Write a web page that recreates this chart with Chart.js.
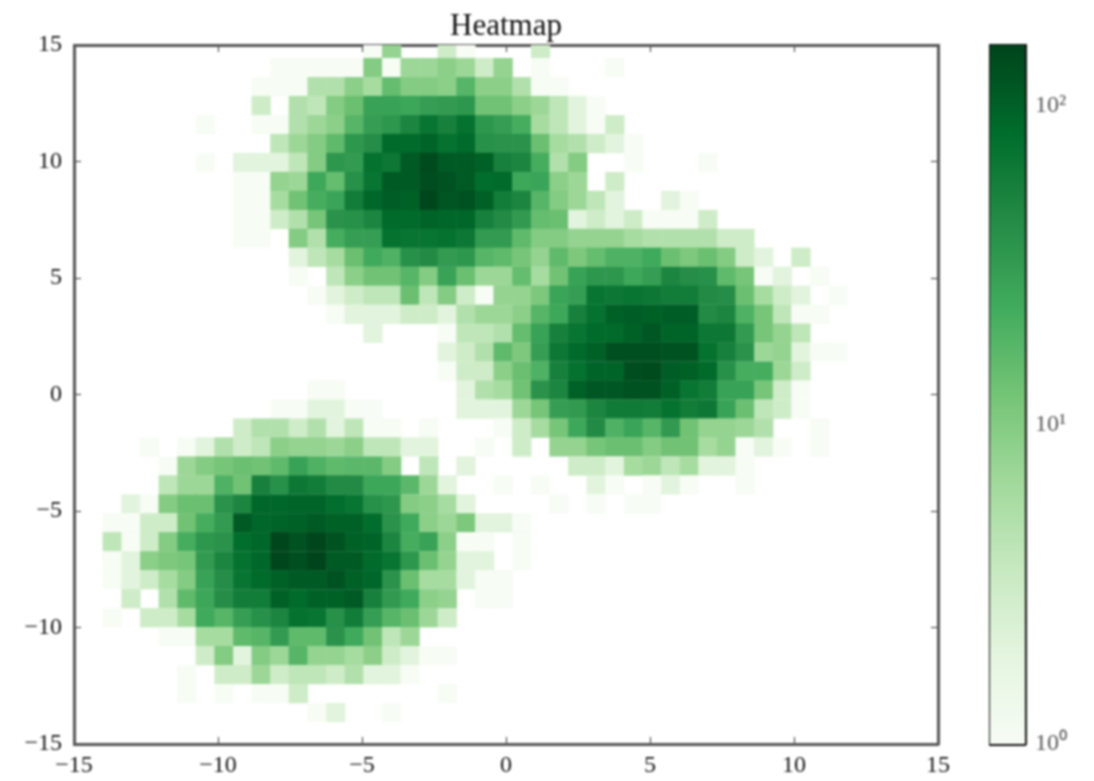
<!DOCTYPE html>
<html>
<head>
<meta charset="utf-8">
<title>Heatmap</title>
<script src="https://cdn.jsdelivr.net/npm/chart.js@4"></script>
<style>
  body { margin: 0; background: #fff; }
  canvas { position: absolute; top: 0; filter: blur(1px); }
  #heatmap { left: 0; }
  #colorbar { left: 940px; }
</style>
</head>
<body>
<canvas id="heatmap" width="1094" height="781"></canvas>
<canvas id="colorbar" width="154" height="781"></canvas>
<script>
// Bin centres
const xBins = [-13.67,-13.02,-12.37,-11.73,-11.08,-10.44,-9.79,-9.14,-8.50,-7.85,-7.21,-6.56,-5.91,-5.27,-4.62,-3.97,-3.33,-2.68,-2.04,-1.39,-0.74,-0.10,0.55,1.20,1.84,2.49,3.13,3.78,4.43,5.07,5.72,6.37,7.01,7.66,8.30,8.95,9.60,10.24,10.89,11.54];
const yBins = [14.84,14.03,13.21,12.40,11.58,10.77,9.96,9.14,8.33,7.51,6.70,5.89,5.07,4.26,3.44,2.63,1.82,1.00,0.19,-0.63,-1.44,-2.25,-3.07,-3.88,-4.70,-5.51,-6.32,-7.14,-7.95,-8.77,-9.58,-10.39,-11.21,-12.02,-12.84,-13.65];

// Counts per bin, one line per y bin (top to bottom), estimated from the colours
const counts = [
  [0,0,0,0,0,0,0,0,0,0, 0,0,0,0,1,8,0,0,3,1, 0,0,0,3],
  [0,0,0,0,0,0,0,0,0,1, 1,1,1,1,10,1,7,7,9,7, 3,8,0,1,0,0,0,1],
  [0,0,0,0,0,0,0,0,1,1, 1,5,5,9,6,15,10,10,9,18, 9,9,5,1,1],
  [0,0,0,0,0,0,0,0,3,0, 5,4,10,14,28,28,26,30,32,35, 13,13,9,7,4,2,1],
  [0,0,0,0,0,1,0,0,1,1, 5,7,9,18,30,35,50,70,55,75, 35,30,22,6,4,2,1,3],
  [0,0,0,0,0,0,0,0,0,4, 7,10,16,35,42,85,85,95,75,85, 40,38,38,14,6,5,3,2,1],
  [0,0,0,0,0,1,0,2,2,2, 4,10,35,32,75,65,110,140,110,110, 100,55,50,22,5,10,0,0,1,0, 0,0,1],
  [0,0,0,0,0,0,0,1,1,8, 7,25,15,40,70,110,110,135,125,110, 80,85,25,27,9,7,0,3],
  [0,0,0,0,0,0,0,1,1,6, 13,22,27,60,90,105,100,150,120,125, 100,60,50,18,10,7,4,2,0,0, 2,1],
  [0,0,0,0,0,0,0,1,1,3, 5,12,38,40,50,85,85,95,90,90, 55,45,33,15,14,2,3,2,3,1, 1,1,3],
  [0,0,0,0,0,0,0,1,1,0, 10,5,22,30,30,75,70,70,75,65, 32,32,16,10,10,8,8,8,6,5, 5,5,5,3,3],
  [0,0,0,0,0,0,0,0,0,0, 2,4,6,14,24,20,40,45,32,35, 18,16,12,8,16,11,15,20,20,24, 14,11,14,10,3,2,0,3],
  [0,0,0,0,0,0,0,0,0,0, 1,0,4,9,13,13,18,10,28,14, 7,7,15,6,13,28,35,35,25,30, 50,42,40,16,12,1,2,0,1],
  [0,0,0,0,0,0,0,0,0,0, 0,1,2,3,4,4,14,4,10,3, 1,8,8,11,27,30,70,65,70,65, 60,60,45,42,14,6,3,2,0,1],
  [0,0,0,0,0,0,0,0,0,0, 0,0,1,2,2,2,3,3,2,5, 7,7,9,18,25,55,75,100,105,100, 105,105,45,50,20,12,4,1,1],
  [0,0,0,0,0,0,0,0,0,0, 0,0,0,0,2,0,0,0,1,4, 4,5,15,28,55,70,85,85,100,115, 95,95,65,65,32,12,8,4],
  [0,0,0,0,0,0,0,0,0,0, 0,0,0,0,0,0,0,0,2,3, 5,16,11,30,65,85,100,130,130,130, 125,125,75,55,38,7,8,2,1,1],
  [0,0,0,0,0,0,0,0,0,0, 0,0,0,0,0,0,0,0,1,3, 3,9,14,20,55,75,95,95,135,140, 105,100,85,40,22,22,7,3],
  [0,0,0,0,0,0,0,0,0,0, 0,1,1,0,0,0,0,0,0,2, 5,6,13,38,50,100,115,115,125,125, 100,70,60,28,28,12,3,1],
  [0,0,0,0,0,0,0,0,0,1, 1,2,2,1,1,0,0,0,0,2, 2,2,7,12,30,33,50,62,62,60, 75,60,65,28,14,4,3,1],
  [0,0,0,0,0,0,0,3,5,5, 3,5,2,4,1,1,0,1,0,0, 0,1,3,6,12,25,45,20,27,18, 33,13,8,8,7,5,0,0,1],
  [0,0,1,0,1,2,5,3,4,9, 8,8,7,9,4,4,2,2,0,0, 1,0,3,0,8,8,12,14,14,10, 13,13,6,8,1,2,1,0,1],
  [0,0,0,1,7,10,12,14,13,16, 28,20,16,17,17,10,0,4,0,2, 0,0,0,0,0,3,3,2,6,7, 4,6,2,2,1],
  [0,0,0,4,7,7,20,13,55,40, 65,60,45,45,26,26,17,7,2,0, 0,1,0,1,0,0,2,1,0,1, 2,1,0,0,1],
  [0,2,1,10,14,14,38,50,90,90, 95,95,80,70,40,35,10,9,6,2, 0,0,0,0,1,0,1,0,1,1],
  [1,1,3,3,13,22,32,110,90,95, 100,110,100,100,80,38,24,9,7,11, 2,2,1],
  [4,1,3,10,22,35,38,80,90,150, 125,150,125,100,95,50,22,28,9,1, 1,0,1],
  [1,2,9,11,12,32,50,75,90,150, 130,155,110,110,85,70,35,14,8,2, 2,0,1],
  [1,2,3,6,10,28,42,70,85,100, 110,110,125,100,90,38,14,6,6,2, 1,1],
  [0,3,0,5,16,26,42,60,60,100, 85,100,100,110,55,33,24,9,8,0, 1,1],
  [1,0,3,3,6,24,18,30,40,50, 75,70,40,60,30,18,14,7,3],
  [0,0,0,1,1,6,6,16,18,32, 16,16,38,24,13,4,7],
  [0,0,0,0,0,3,10,2,10,7, 18,8,8,6,9,3,2,1,1],
  [0,0,0,0,1,0,3,3,7,3, 4,4,3,5,2,2,1],
  [0,0,0,0,1,0,1,0,1,1, 3,0,0,0,0,0,0,0,1],
  [0,0,0,0,0,0,0,0,0,0, 0,1,2,0,0,1]
];

const axisTicks = [-15, -10, -5, 0, 5, 10, 15];
const barTicks = [1, 10, 100];
const barTickLabels = ['10\u2070', '10\u00b9', '10\u00b2'];
const countMax = 155;

// matplotlib Greens
const greens = ['#f7fcf5','#e5f5e0','#c7e9c0','#a1d99b','#74c476','#41ab5d','#238b45','#006d2c','#00441b'];

function hexToRgb(hex) {
  return [1, 3, 5].map(i => parseInt(hex.slice(i, i + 2), 16));
}

function colorFor(value) {
  const t = Math.min(Math.log10(value) / Math.log10(countMax), 1) * (greens.length - 1);
  const i = Math.min(Math.floor(t), greens.length - 2);
  const a = hexToRgb(greens[i]);
  const b = hexToRgb(greens[i + 1]);
  const c = a.map((v, j) => Math.round(v + (b[j] - v) * (t - i)));
  return `rgb(${c[0]},${c[1]},${c[2]})`;
}

const points = [];
counts.forEach((row, r) => {
  row.forEach((v, k) => {
    if (v > 0) points.push({ x: xBins[k], y: yBins[r], v: v });
  });
});

const serif = '"Liberation Serif", serif';
const frame = '#555';

function useFixedTicks(list) {
  return scale => { scale.ticks = list.map(v => ({ value: v })); };
}

// side of one cell in pixels, from the scales, so rect pointStyle fills it
function cellRadius(ctx) {
  const { x, y } = ctx.chart.scales;
  const w = Math.abs(x.getPixelForValue(xBins[1]) - x.getPixelForValue(xBins[0]));
  const h = Math.abs(y.getPixelForValue(yBins[1]) - y.getPixelForValue(yBins[0]));
  return Math.max(w, h) * Math.SQRT1_2 + 0.3;
}

new Chart(document.getElementById('heatmap'), {
  type: 'scatter',
  data: {
    datasets: [{
      label: 'Heatmap',
      data: points,
      xAxisID: 'x',
      yAxisID: 'y',
      pointStyle: 'rect',
      pointRadius: cellRadius,
      pointBorderWidth: 0,
      pointBackgroundColor: ctx => colorFor(ctx.raw.v),
      clip: 0
    }]
  },
  options: {
    responsive: false,
    animation: false,
    layout: { padding: { right: 156 } },
    plugins: {
      legend: { display: false },
      tooltip: { enabled: false }
    },
    scales: {
      x: {
        type: 'linear', min: -15, max: 15, z: 1,
        afterBuildTicks: useFixedTicks(axisTicks),
        afterFit: s => { s.height = 37; },
        border: { color: frame, width: 3 },
        grid: { drawOnChartArea: false, tickLength: -7, color: '#333' },
        ticks: {
          padding: 14, maxRotation: 0, color: '#111',
          font: { family: serif, size: 24 },
          callback: v => String(v).replace('-', '\u2212')
        }
      },
      y: {
        type: 'linear', min: -15, max: 15, z: 1,
        afterBuildTicks: useFixedTicks(axisTicks),
        afterFit: s => { s.width = 74; },
        border: { color: frame, width: 3 },
        grid: { drawOnChartArea: false, tickLength: -7, color: '#333' },
        ticks: {
          padding: 19, color: '#111',
          font: { family: serif, size: 24 },
          callback: v => String(v).replace('-', '\u2212')
        }
      },
      // top axis also carries the title, so it centres over the plot area
      xTop: {
        type: 'linear', position: 'top', min: -15, max: 15, z: 1,
        afterBuildTicks: useFixedTicks(axisTicks),
        afterFit: s => { s.height = 45; },
        border: { color: frame, width: 3 },
        grid: { drawOnChartArea: false, tickLength: -7, color: '#333' },
        ticks: { display: false },
        title: {
          display: true,
          text: 'Heatmap',
          color: '#111',
          font: { family: serif, size: 31, weight: 'normal' },
          padding: { top: 8, bottom: 0 }
        }
      },
      yRight: {
        type: 'linear', position: 'right', min: -15, max: 15, z: 1,
        afterBuildTicks: useFixedTicks(axisTicks),
        afterFit: s => { s.width = 0; },
        border: { color: frame, width: 3 },
        grid: { drawOnChartArea: false, tickLength: -7, color: '#333' },
        ticks: { display: false }
      }
    }
  }
});

// Colour bar: one floating bar on a log axis with the colormap as a gradient
function barGradient(ctx) {
  const area = ctx.chart.chartArea;
  if (!area) return greens[4];
  const g = ctx.chart.ctx.createLinearGradient(0, area.bottom, 0, area.top);
  greens.forEach((c, i) => g.addColorStop(i / (greens.length - 1), c));
  return g;
}

new Chart(document.getElementById('colorbar'), {
  type: 'bar',
  data: {
    labels: ['counts'],
    datasets: [{
      data: [[1, countMax]],
      xAxisID: 'x',
      yAxisID: 'y',
      backgroundColor: barGradient,
      barPercentage: 1,
      categoryPercentage: 1,
      borderSkipped: false
    }]
  },
  options: {
    responsive: false,
    animation: false,
    layout: { padding: { left: 50, top: 45, right: 0, bottom: 37 } },
    plugins: { legend: { display: false }, tooltip: { enabled: false } },
    scales: {
      x: {
        type: 'category', position: 'top', z: 1,
        afterFit: s => { s.height = 0; },
        border: { color: '#111', width: 3 },
        grid: { display: false },
        ticks: { display: false }
      },
      xBottom: {
        type: 'category', position: 'bottom', labels: ['counts'], z: 1,
        afterFit: s => { s.height = 0; },
        border: { color: '#111', width: 3 },
        grid: { display: false },
        ticks: { display: false }
      },
      yLeft: {
        type: 'linear', position: 'left', min: 0, max: 1, z: 1,
        afterFit: s => { s.width = 0; },
        border: { color: '#111', width: 3 },
        grid: { display: false },
        ticks: { display: false }
      },
      y: {
        type: 'logarithmic', position: 'right', min: 1, max: countMax, z: 1,
        afterBuildTicks: useFixedTicks(barTicks),
        afterFit: s => { s.width = 69; },
        border: { color: '#111', width: 3 },
        grid: { drawOnChartArea: false, tickLength: -8, color: '#222' },
        ticks: {
          padding: 18, color: '#555',
          font: { family: serif, size: 24 },
          callback: v => barTickLabels[barTicks.indexOf(v)]
        }
      }
    }
  }
});
</script>
</body>
</html>
